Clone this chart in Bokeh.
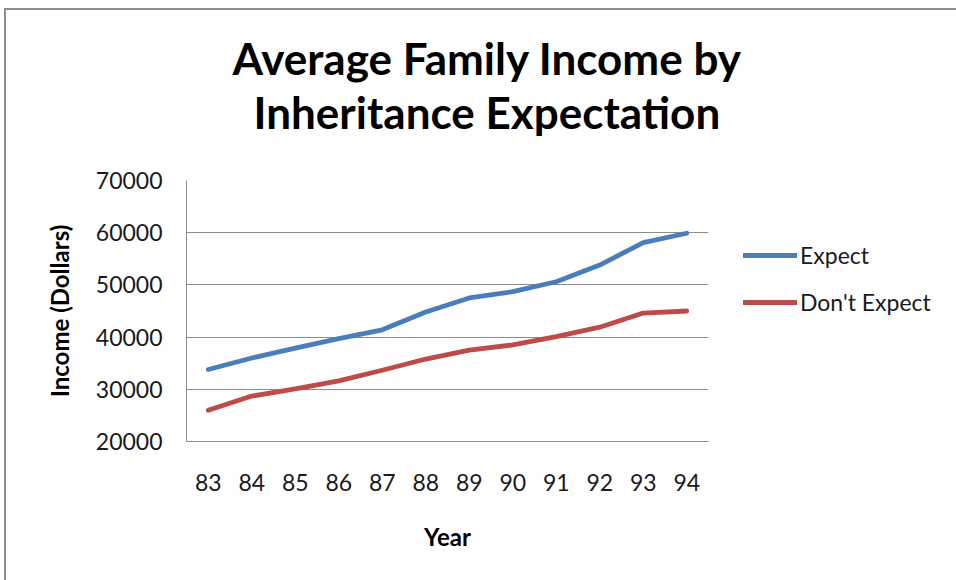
from bokeh.plotting import figure
from bokeh.models import FixedTicker, Title, Legend, LegendItem, FactorRange, Range1d
from bokeh.embed import file_html
from bokeh.resources import INLINE

years = ["83", "84", "85", "86", "87", "88", "89", "90", "91", "92", "93", "94"]
expect = [33800, 36000, 37900, 39700, 41400, 44800, 47500, 48700, 50600, 53800, 58100, 59900]
dont_expect = [26000, 28700, 30100, 31600, 33650, 35800, 37500, 38500, 40100, 41900, 44600, 45000]
y_ticks = [20000, 30000, 40000, 50000, 60000, 70000]
title_lines = ["Average Family Income by", "Inheritance Expectation"]

FONT = "Lato"
GRAY = "#8c8c8c"

p = figure(frame_width=522, frame_height=261, x_range=FactorRange(*years), y_range=Range1d(20000, 70000),
           output_backend="svg", toolbar_location=None,
           min_border_left=180, min_border_right=248, min_border_top=170, min_border_bottom=139)
p.styles = {"margin-left": "4px", "margin-top": "8px",
            "border-left": "2px solid #8e8e8e", "border-top": "2px solid #8e8e8e"}
p.outline_line_color = None
p.background_fill_color = "white"
p.border_fill_color = "white"

r1 = p.line(years, expect, line_color="#4A7EBB", line_width=4.8, line_cap="round", line_join="round")
r2 = p.line(years, dont_expect, line_color="#BE4B48", line_width=4.8, line_cap="round", line_join="round")

p.xgrid.grid_line_color = None
p.ygrid.grid_line_color = GRAY
p.ygrid.grid_line_width = 1
p.yaxis.ticker = FixedTicker(ticks=y_ticks)
p.yaxis.formatter.use_scientific = False

for ax in (p.xaxis[0], p.yaxis[0]):
    ax.axis_line_color = GRAY
    ax.axis_line_width = 1
    ax.major_tick_line_color = None
    ax.minor_tick_line_color = None
    ax.major_tick_out = 0
    ax.major_tick_in = 0
    ax.major_label_text_font = FONT
    ax.major_label_text_font_size = "23px"
    ax.major_label_text_color = "#1a1a1a"
    ax.axis_label_text_font = FONT
    ax.axis_label_text_font_size = "24px"
    ax.axis_label_text_font_style = "bold"
    ax.axis_label_text_color = "#000000"

p.yaxis.axis_label = "Income (Dollars)"
p.yaxis.major_label_standoff = 24
p.yaxis.axis_label_standoff = 19
p.xaxis.axis_label = "Year"
p.xaxis.major_label_standoff = 32
p.xaxis.axis_label_standoff = 28

# Title block: p.title is the outermost line; added Titles stack outward from the frame
p.title.text = title_lines[0]
p.title.align = "left"
p.title.offset = 46
p.title.standoff = 0
p.title.text_font = FONT
p.title.text_font_size = "44px"
p.title.text_font_style = "bold"
p.title.text_color = "#000000"
# invisible spacer between the frame and the second title line
p.add_layout(Title(text=" ", standoff=29, text_font=FONT, text_font_size="10px"), "above")
p.add_layout(Title(text=title_lines[1], align="left", offset=67, standoff=0,
                   text_font=FONT, text_font_size="44px", text_font_style="bold",
                   text_color="#000000"), "above")

legend = Legend(items=[LegendItem(label="Expect", renderers=[r1]),
                       LegendItem(label="Don't Expect", renderers=[r2])],
                location=(35, 125), orientation="vertical")
legend.glyph_width = 54
legend.glyph_height = 28
legend.label_height = 28
legend.spacing = 19
legend.padding = 0
legend.margin = 0
legend.label_standoff = 3
legend.label_text_font = FONT
legend.label_text_font_size = "23px"
legend.label_text_color = "#1a1a1a"
legend.border_line_color = None
legend.background_fill_alpha = 0
p.add_layout(legend, "right")

open("out.html", "w").write(file_html(p, INLINE))
